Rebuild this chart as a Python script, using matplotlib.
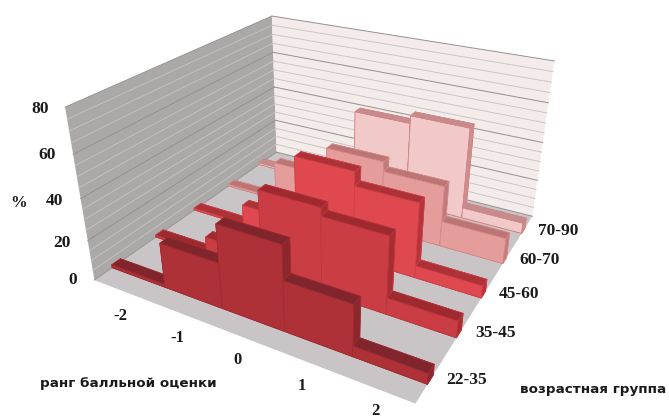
import matplotlib
matplotlib.use("Agg")
import matplotlib.pyplot as plt
from mpl_toolkits.mplot3d.art3d import Poly3DCollection

# данные: ранг балльной оценки / возрастная группа, значения в %
ranks = ["-2", "-1", "0", "1", "2"]
ages = ["22-35", "35-45", "45-60", "60-70", "70-90"]
age_22_35 = [1.5, 22, 40, 24, 5]
age_35_45 = [1, 9, 41, 37, 8]
age_45_60 = [1, 11, 44, 37, 6]
age_60_70 = [1, 21, 36, 31, 13]
age_70_90 = [1, 3, 44, 48, 5.5]
z_ticks = [0, 20, 40, 60, 80]

# оформление
FRONT = ["#AF3138", "#CB3D44", "#E0484F", "#E59D9C", "#F0C9C8"]
TOP = ["#80252B", "#9E2A30", "#AD3238", "#BC7474", "#C48C8C"]
SIDE = ["#8C272D", "#A82D33", "#B5343A", "#C27A7A", "#CC8E8E"]
EDGE = ["#A02C33", "#BC373E", "#CF4047", "#D28A8A", "#D67F80"]
BAR_Y0, BAR_Y1 = 0.37, 0.56

plt.rcParams["font.family"] = ["Liberation Serif", "DejaVu Sans"]
fig = plt.figure(figsize=(6.69, 4.2), dpi=100)
fig.patch.set_facecolor("white")

# камера подобрана по углам стенок на исходной картинке
S, TX, TY = 2676.1, 328.4, 251.4  # масштаб и сдвиг проекции, px
ax = fig.add_axes([0, 0, 1, 1], projection="3d")
ax.set_axis_off()
ax.computed_zorder = False
ax.view_init(elev=26.98, azim=-60.87)
ax.set_proj_type("persp", focal_length=0.2837)
ax.set_box_aspect((1, 0.9701, 0.5363))
ax.set_xlim(0, 5, view_margin=0)
ax.set_ylim(0, 5, view_margin=0)
ax.set_zlim(0, 80, view_margin=0)
vl = ax.viewLim
ax.set_position([(TX + S * vl.x0) / 669, (TY + S * vl.y0) / 420,
                 S * vl.width / 669, S * vl.height / 420])

# стенки и пол
zmax = z_ticks[-1]
walls = [
    ([(0, 0, 0), (5, 0, 0), (5, 5, 0), (0, 5, 0)], "#C9C4C5"),
    ([(0, 0, 0), (0, 5, 0), (0, 5, zmax), (0, 0, zmax)], "#ABA8A8"),
    ([(0, 5, 0), (5, 5, 0), (5, 5, zmax), (0, 5, zmax)], "#F3ECEB"),
]
for verts, col in walls:
    ax.add_collection3d(Poly3DCollection([verts], facecolors=col, edgecolors="none",
                                         zorder=0, clip_on=False), autolim=False)

# сетка: основные линии через 20, вспомогательные через 5
for z in range(0, zmax + 1, 5):
    major = z % 20 == 0
    ax.plot([0, 0], [0, 5], [z, z], color="#918E8E" if major else "#C6C4C4",
            lw=0.6, zorder=1, clip_on=False)
    ax.plot([0, 5], [5, 5], [z, z], color="#959090" if major else "#CDC6C6",
            lw=0.7, zorder=1, clip_on=False)

# столбцы: задний ряд первым, внутри ряда слева направо
rows = [age_22_35, age_35_45, age_45_60, age_60_70, age_70_90]
for r in range(4, -1, -1):
    for c, val in enumerate(rows[r]):
        colors = ["#000000", TOP[r], FRONT[r], FRONT[r], FRONT[r], SIDE[r]]
        ax.bar3d(c, r + BAR_Y0, 0, 1, BAR_Y1 - BAR_Y0, val, color=colors, shade=False,
                 edgecolor=EDGE[r], linewidth=0.5, zorder=10 + (4 - r) * 10 + c)


# подписи
def px_text(x, y, s, **kw):
    fig.text(x / 669, 1 - y / 420, s, ha="center", va="center", color="#1a1a1a", **kw)


z_pos = [(73, 280), (62, 243), (54, 201), (47, 155), (40, 109)]
for (x, y), z in zip(z_pos, z_ticks):
    px_text(x, y, str(z), fontsize=12.5, fontweight="bold")
rank_pos = [(120, 316), (177, 338), (237, 360), (302, 386), (375, 411)]
for (x, y), lab in zip(rank_pos, ranks):
    px_text(x, y, lab, fontsize=12, fontweight="bold")
age_pos = [(467, 380), (495, 333), (519, 294), (540, 260), (558, 231)]
for (x, y), lab in zip(age_pos, ages):
    px_text(x, y, lab, fontsize=12.5, fontweight="bold")
px_text(19, 203, "%", fontsize=12, fontweight="bold")
px_text(128, 383, "ранг балльной оценки", fontsize=9.7, fontweight="bold", family="DejaVu Sans")
px_text(593, 389, "возрастная группа", fontsize=9.7, fontweight="bold", family="DejaVu Sans")

fig.savefig("out.png", dpi=100, facecolor="white")
